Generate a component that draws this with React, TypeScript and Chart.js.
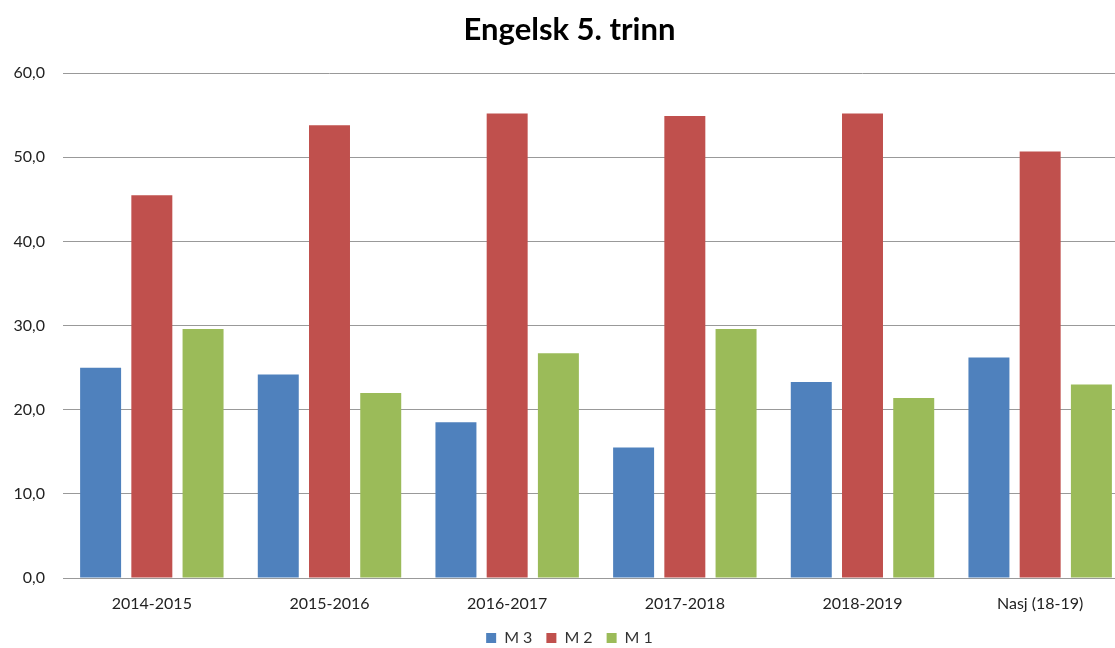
import React, { useEffect, useRef } from "react";
import { Chart, registerables } from "chart.js";

Chart.register(...registerables);

const categories = ["2014-2015", "2015-2016", "2016-2017", "2017-2018", "2018-2019", "Nasj (18-19)"];
const m3Values = [25.0, 24.2, 18.5, 15.5, 23.3, 26.2];
const m2Values = [45.5, 53.8, 55.2, 54.9, 55.2, 50.7];
const m1Values = [29.6, 22.0, 26.7, 29.6, 21.4, 23.0];
const seriesLabels = ["M 3", "M 2", "M 1"];
const titleText = "Engelsk 5. trinn";

const FONT = "Lato, 'Open Sans', sans-serif";

export default function App() {
  const ref = useRef<HTMLCanvasElement | null>(null);
  useEffect(() => {
    if (!ref.current) return;
    const chart = new Chart(ref.current, {
      type: "bar",
      data: {
        labels: categories,
        datasets: [
          { label: seriesLabels[0], data: m3Values, backgroundColor: "#4F81BD" },
          { label: seriesLabels[1], data: m2Values, backgroundColor: "#C0504D" },
          { label: seriesLabels[2], data: m1Values, backgroundColor: "#9BBB59" },
        ],
      },
      options: {
        responsive: false,
        animation: false,
        layout: { padding: { left: 10, right: 21, top: 6, bottom: -8 } },
        datasets: { bar: { categoryPercentage: 0.865, barPercentage: 0.8 } },
        plugins: {
          title: {
            display: true,
            text: titleText,
            color: "#000",
            font: { family: FONT, size: 31, weight: "bold" },
            padding: { top: 5, bottom: 25 },
          },
          legend: {
            position: "bottom",
            labels: {
              color: "#333",
              font: { family: FONT, size: 16 },
              boxWidth: 10,
              boxHeight: 10,
              padding: 14,
            },
          },
          tooltip: { enabled: false },
        },
        scales: {
          x: {
            grid: { display: false, drawTicks: false },
            border: { display: true, color: "#999" },
            ticks: { color: "#222", font: { family: FONT, size: 16 }, padding: 16, maxRotation: 0 },
            afterFit: (s: any) => { s.height = 38; },
          },
          y: {
            min: 0,
            max: 60,
            grid: { color: "#999", drawTicks: false },
            border: { display: false },
            ticks: {
              stepSize: 10,
              color: "#222",
              font: { family: FONT, size: 16 },
              padding: 18,
              callback: (v: any) => Number(v).toFixed(1).replace(".", ","),
            },
            afterFit: (s: any) => { s.width = 53; },
          },
        },
      },
    });
    return () => chart.destroy();
  }, []);
  return (
    <div style={{ position: "absolute", left: 0, top: 0, width: 1115, height: 648, overflow: "hidden", background: "#fff" }}>
      <canvas ref={ref} width={1150} height={648} style={{ width: 1150, height: 648 }} />
    </div>
  );
}
